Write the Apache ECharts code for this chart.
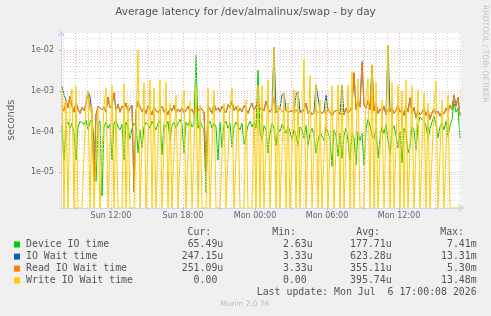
<!DOCTYPE html>
<html>
<head>
<meta charset="utf-8">
<script src="https://cdn.jsdelivr.net/npm/echarts@6/dist/echarts.min.js"></script>
<style>
  html, body { margin: 0; padding: 0; background: #f0f0f0; }
  #chart { width: 491px; height: 316px; }
</style>
</head>
<body>
<div id="chart"></div>
<script>
// samples every 10 minutes, minutes counted from Sun 00:00
const startMinute = 475;
const stepMinutes = 10;
const xMin = 470, xMax = 2470;
const yMin = 1.32e-6, yMax = 2.66e-2;

const tickMinutes = [720, 1080, 1440, 1800, 2160];
const tickLabels = ['Sun 12:00', 'Sun 18:00', 'Mon 00:00', 'Mon 06:00', 'Mon 12:00'];

// values in microseconds (0 = no latency)
const deviceIO = [
  140, 19, 150, 170, 120, 160, 90, 20, 130, 180,
  200, 150, 190, 110, 170, 210, 60, 6, 140, 180,
  2.63, 130, 170, 120, 150, 20, 160, 190, 130, 110,
  150, 20, 170, 130, 65, 120, 160, 140, 30, 110,
  40, 130, 170, 150, 120, 180, 140, 110, 160, 190,
  27, 150, 130, 180, 60, 140, 170, 120, 160, 200,
  150, 30, 170, 140, 190, 130, 160, 7410, 120, 180,
  140, 110, 3.2, 150, 180, 120, 160, 130, 20, 170,
  40, 150, 180, 120, 160, 42, 130, 170, 190, 110,
  160, 50, 55, 140, 180, 130, 170, 120, 3200, 100,
  60, 140, 110, 30, 90, 160, 120, 45, 130, 100,
  150, 120, 90, 140, 100, 63, 110, 80, 45, 130,
  110, 70, 140, 45, 90, 120, 80, 30, 60, 100,
  100, 60, 130, 90, 70, 14, 110, 80, 25, 90,
  22, 80, 120, 60, 19, 90, 70, 15, 100, 60,
  90, 15, 110, 210, 140, 80, 65, 120, 22, 70,
  130, 90, 150, 60, 27, 110, 140, 80, 40, 100,
  17, 120, 90, 30, 45, 130, 110, 35, 150, 230,
  250, 180, 140, 65, 120, 170, 240, 150, 70, 130,
  160, 110, 180, 75, 140, 200, 550, 300, 380, 65.49
];
const ioWait = [
  1300, 800, 600, 380, 750, 420, 300, 520, 360, 280,
  400, 330, 480, 1000, 700, 290, 6, 260, 420, 380,
  340, 410, 300, 700, 380, 450, 900, 330, 470, 300,
  420, 360, 500, 290, 380, 440, 3.33, 320, 560, 400,
  310, 380, 280, 430, 350, 260, 400, 330, 290, 370,
  420, 300, 350, 260, 390, 330, 440, 280, 360, 310,
  380, 290, 340, 420, 300, 360, 270, 450, 320, 400,
  350, 300, 10, 420, 360, 280, 500, 330, 390, 300,
  420, 350, 290, 460, 380, 560, 330, 410, 300, 370,
  310, 440, 360, 280, 390, 500, 340, 420, 600, 350,
  400, 320, 560, 380, 300, 350, 12000, 290, 330, 380,
  800, 900, 340, 300, 270, 330, 290, 800, 1000, 310,
  300, 340, 500, 280, 320, 260, 300, 1400, 700, 330,
  280, 320, 800, 350, 300, 240, 310, 280, 340, 270,
  1400, 260, 380, 290, 330, 420, 2800, 350, 600, 400,
  5300, 450, 380, 600, 350, 4200, 320, 500, 280, 360,
  300, 420, 260, 13310, 310, 400, 280, 330, 450, 300,
  360, 250, 430, 310, 680, 280, 390, 220, 330, 260,
  300, 380, 250, 340, 200, 290, 360, 270, 320, 240,
  310, 270, 380, 300, 450, 350, 800, 420, 700, 247.15
];
const readWait = [
  450, 320, 600, 380, 750, 420, 300, 520, 360, 280,
  400, 330, 480, 900, 350, 290, 6, 260, 420, 380,
  340, 410, 300, 700, 380, 450, 900, 330, 470, 300,
  420, 360, 500, 290, 380, 440, 3.33, 320, 560, 400,
  310, 380, 280, 430, 350, 260, 400, 330, 290, 370,
  420, 300, 350, 260, 390, 330, 440, 280, 360, 310,
  380, 290, 340, 420, 300, 360, 270, 450, 320, 400,
  350, 300, 10, 420, 360, 280, 500, 330, 390, 300,
  420, 350, 290, 460, 380, 560, 330, 410, 300, 370,
  310, 440, 360, 280, 390, 500, 340, 420, 600, 350,
  400, 320, 560, 380, 300, 350, 700, 290, 330, 380,
  310, 280, 340, 300, 270, 330, 290, 350, 280, 310,
  300, 340, 500, 280, 320, 260, 300, 350, 290, 330,
  280, 320, 260, 350, 300, 240, 310, 280, 340, 270,
  300, 260, 380, 290, 330, 420, 2800, 350, 600, 400,
  5300, 450, 380, 600, 350, 4200, 320, 500, 280, 360,
  300, 420, 260, 350, 310, 400, 280, 330, 450, 300,
  360, 250, 430, 310, 680, 280, 390, 220, 330, 260,
  300, 380, 250, 340, 200, 290, 360, 270, 320, 240,
  310, 270, 380, 300, 450, 350, 800, 420, 700, 251.09
];
const writeWait = [
  1300, 0, 600, 0, 450, 1100, 0, 1300, 0, 0,
  0, 0, 500, 1000, 0, 400, 0, 0, 350, 0,
  0, 420, 1200, 0, 0, 1350, 0, 380, 0, 0,
  0, 1500, 0, 450, 0, 0, 0, 0, 10000, 0,
  0, 1600, 0, 0, 1850, 0, 1200, 0, 0, 1850,
  0, 0, 1600, 0, 500, 0, 0, 800, 0, 0,
  400, 1050, 0, 0, 550, 0, 0, 1330, 0, 450,
  0, 0, 0, 1200, 0, 0, 1050, 0, 0, 0,
  0, 500, 0, 0, 400, 1200, 0, 0, 450, 0,
  0, 0, 600, 0, 0, 0, 350, 0, 1400, 0,
  1330, 0, 0, 1850, 0, 0, 12000, 0, 450, 0,
  0, 900, 0, 500, 0, 0, 1050, 0, 1000, 0,
  0, 6000, 0, 0, 2400, 0, 0, 1400, 0, 600,
  0, 0, 550, 0, 0, 1330, 0, 0, 1400, 0,
  1400, 0, 0, 1400, 0, 3000, 0, 0, 2000, 0,
  0, 0, 700, 2000, 0, 4500, 0, 1600, 0, 0,
  600, 0, 0, 13480, 0, 1600, 0, 0, 1400, 0,
  1000, 0, 1850, 0, 0, 1330, 0, 0, 1050, 0,
  0, 900, 0, 500, 0, 0, 450, 1750, 0, 0,
  600, 0, 0, 800, 0, 0, 0, 0, 0, 0
];

const seriesNames = ['Device IO time', 'IO Wait time', 'Read IO Wait time', 'Write IO Wait time'];
const seriesColors = ['#00cc00', '#0066b3', '#ff8000', '#ffcc00'];
const curValues = ['65.49u', '247.15u', '251.09u', '0.00'];
const minValues = ['2.63u', '3.33u', '3.33u', '0.00'];
const avgValues = ['177.71u', '623.28u', '355.11u', '395.74u'];
const maxValues = ['7.41m', '13.31m', '5.30m', '13.48m'];

const GREY = '#d4d4d4';
const RED = '#f0a8a8';
const AXIS = '#cfd6f8';

function toPoints(arr) {
  return arr.map((v, i) => [startMinute + i * stepMinutes, v === 0 ? yMin : v * 1e-6]);
}

// grid lines (munin style: grey minor, red major)
const gridLines = [];
for (let d = -6; d <= -2; d++) {
  for (let m = 2; m <= 9; m++) {
    const v = m * Math.pow(10, d);
    if (v > yMin && v < yMax) gridLines.push({ yAxis: v, lineStyle: { color: GREY } });
  }
}
for (let t = 480; t < xMax; t += 60) {
  if (t % 180 !== 0) gridLines.push({ xAxis: t, lineStyle: { color: GREY } });
}
for (let d = -5; d <= -2; d++) gridLines.push({ yAxis: Math.pow(10, d), lineStyle: { color: RED } });
for (let t = 540; t < xMax; t += 180) gridLines.push({ xAxis: t, lineStyle: { color: RED } });

const dataSeries = [deviceIO, ioWait, readWait, writeWait].map((arr, k) => ({
  name: seriesNames[k],
  type: 'line',
  data: toPoints(arr),
  showSymbol: false,
  symbol: 'none',
  clip: true,
  z: 3 + k,
  lineStyle: { width: 1, color: seriesColors[k] },
  itemStyle: { color: seriesColors[k] },
  emphasis: { disabled: true }
}));

const font = '"DejaVu Sans", sans-serif';
const mono = '"DejaVu Sans Mono", monospace';

const graphics = [
  { type: 'text', x: 245.5, y: 12, style: { text: 'Average latency for /dev/almalinux/swap - by day', font: '10.5px ' + font, fill: '#555', align: 'center', verticalAlign: 'middle' } },
  { type: 'text', x: 11.5, y: 120, rotation: Math.PI / 2, style: { text: 'seconds', font: '10px ' + font, fill: '#666', align: 'center', verticalAlign: 'middle' } },
  { type: 'text', x: 485, y: 54, rotation: -Math.PI / 2, style: { text: 'RRDTOOL / TOBI OETIKER', font: '7.6px ' + font, fill: '#c4c4c4', align: 'center', verticalAlign: 'middle' } },
  { type: 'text', x: 476.7, y: 292.3, style: { text: 'Last update: Mon Jul  6 17:00:08 2026', font: '9.9px ' + mono, fill: '#555', align: 'right', verticalAlign: 'middle' } },
  { type: 'text', x: 245, y: 304.5, style: { text: 'Munin 2.0.76', font: '7.5px ' + font, fill: '#bbb', align: 'center', verticalAlign: 'middle' } }
];
const headers = ['Cur:', 'Min:', 'Avg:', 'Max:'];
const headerRight = [211.3, 296, 380, 464];
const valueRight = [223.3, 312.7, 391.7, 476.7];
headers.forEach((h, c) => {
  graphics.push({ type: 'text', x: headerRight[c], y: 232.7, style: { text: h, font: '9.9px ' + mono, fill: '#555', align: 'right', verticalAlign: 'middle' } });
});
const rowY = [244.5, 256.6, 268.6, 280.5];
const cols = [curValues, minValues, avgValues, maxValues];
seriesNames.forEach((n, r) => {
  graphics.push({ type: 'rect', shape: { x: 14, y: rowY[r] - 3, width: 6, height: 6 }, style: { fill: seriesColors[r] } });
  graphics.push({ type: 'text', x: 26, y: rowY[r], style: { text: n, font: '9.9px ' + mono, fill: '#555', align: 'left', verticalAlign: 'middle' } });
  cols.forEach((col, c) => {
    const s = col[r];
    const right = /[a-z]$/i.test(s) ? valueRight[c] : valueRight[c] - 5.96;
    graphics.push({ type: 'text', x: right, y: rowY[r], style: { text: s, font: '9.9px ' + mono, fill: '#555', align: 'right', verticalAlign: 'middle' } });
  });
});

const chart = echarts.init(document.getElementById('chart'), null, { renderer: 'canvas' });
chart.setOption({
  animation: false,
  backgroundColor: '#f0f0f0',
  grid: { left: 61, top: 33, width: 400, height: 175, show: true, backgroundColor: '#ffffff', borderWidth: 0 },
  xAxis: {
    type: 'value', min: xMin, max: xMax,
    axisLine: { show: true, lineStyle: { color: AXIS, width: 1 }, symbol: ['none', 'arrow'], symbolSize: [6, 7], symbolOffset: [0, 4] },
    axisTick: { show: true, customValues: [540, 720, 900, 1080, 1260, 1440, 1620, 1800, 1980, 2160, 2340], length: 2, lineStyle: { color: RED } },
    axisLabel: { customValues: tickMinutes, formatter: v => tickLabels[tickMinutes.indexOf(v)] || '', color: '#666', fontFamily: font, fontSize: 8, margin: 4 },
    splitLine: { show: false }
  },
  yAxis: {
    type: 'log', logBase: 10, min: yMin, max: yMax,
    axisLine: { show: true, lineStyle: { color: AXIS, width: 1 }, symbol: ['none', 'arrow'], symbolSize: [6, 7], symbolOffset: [0, 3] },
    axisTick: { show: true, length: 2, lineStyle: { color: RED } },
    axisLabel: {
      color: '#666', fontFamily: font, fontSize: 8, margin: 7, showMinLabel: false, showMaxLabel: false,
      formatter: v => { const e = Math.round(Math.log10(v)); return '1e' + (e < 0 ? '-' : '+') + String(Math.abs(e)).padStart(2, '0'); }
    },
    splitLine: { show: false },
    minorTick: { show: false }
  },
  series: [{
    type: 'line', data: [], z: 1, silent: true,
    markLine: { silent: true, symbol: 'none', precision: 20, animation: false, label: { show: false }, lineStyle: { type: [1, 2], width: 1 }, data: gridLines }
  }].concat(dataSeries),
  graphic: graphics
});
</script>
</body>
</html>
